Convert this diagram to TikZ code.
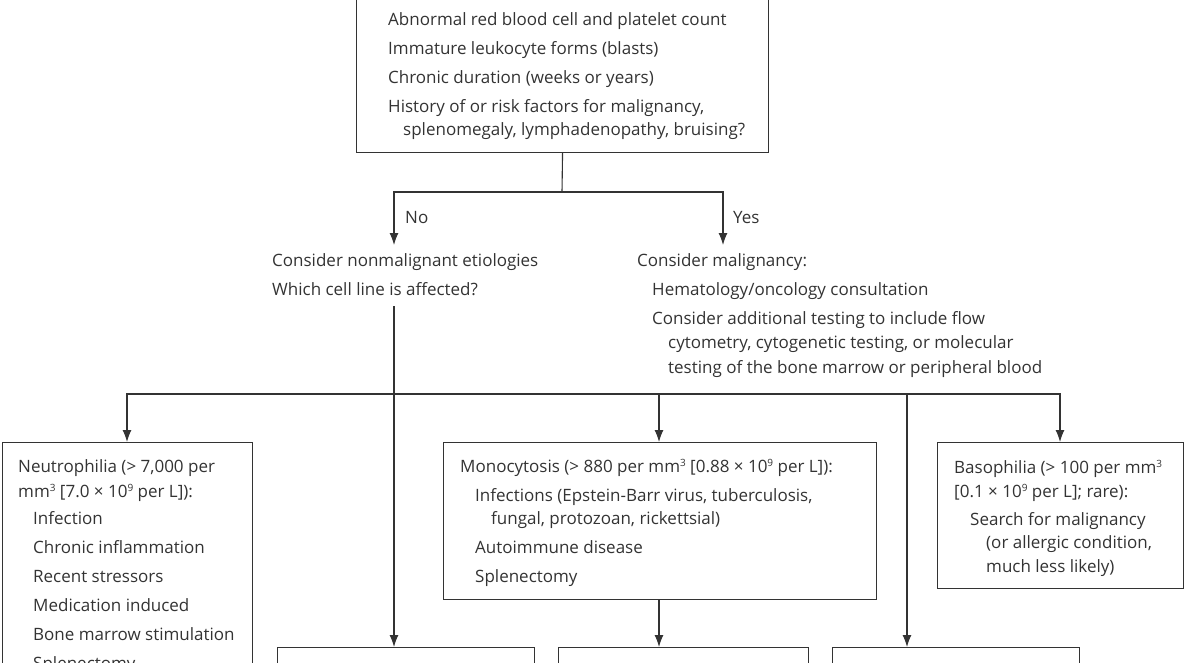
\documentclass[tikz,border=0pt]{standalone}
\usepackage{fontspec}
\setmainfont{Open Sans}
\usetikzlibrary{arrows.meta}
\definecolor{ink}{HTML}{333333}
\newcommand{\supx}[1]{\raisebox{0.62ex}{\fontsize{10}{10}\selectfont #1}}
\begin{document}
\begin{tikzpicture}[x=1pt,y=-1pt,
  box/.style={draw=ink,line width=1.1pt,rectangle,anchor=north west,inner sep=0pt},
  txt/.style={anchor=base west,inner sep=0pt,text=ink,font=\fontsize{17}{20}\selectfont},
  conn/.style={draw=ink,line width=1.1pt},
  arr/.style={conn,-{Latex[length=12pt,width=9pt]}}]
\useasboundingbox (0,0) rectangle (1184,662);
\clip (0,0) rectangle (1184,662);
% boxes
\node[box,minimum width=412pt,minimum height=182pt] (top) at (356,-30) {};
\node[box,minimum width=250pt,minimum height=260pt] (neu) at (2,442) {};
\node[box,minimum width=433pt,minimum height=157pt] (mono) at (443,442) {};
\node[box,minimum width=246pt,minimum height=146pt] (baso) at (937,442) {};
\node[box,minimum width=257pt,minimum height=60pt] (b1) at (277,647) {};
\node[box,minimum width=250pt,minimum height=60pt] (b2) at (558,647) {};
\node[box,minimum width=247pt,minimum height=60pt] (b3) at (832,647) {};
% top box text
\node[txt] (t1) at (388,25) {Abnormal red blood cell and platelet count};
\node[txt] (t2) at (388,54) {Immature leukocyte forms (blasts)};
\node[txt] (t3) at (388,83) {Chronic duration (weeks or years)};
\node[txt] (t4) at (388,112) {History of or risk factors for malignancy,};
\node[txt] (t5) at (403,135) {splenomegaly, lymphadenopathy, bruising?};
% branch labels
\node[txt] (no) at (405,223) {No};
\node[txt] (yes) at (733,223) {Yes};
\node[txt] (n1) at (272,266) {Consider nonmalignant etiologies};
\node[txt] (n2) at (272,295) {Which cell line is affected?};
\node[txt] (m1) at (637,266) {Consider malignancy:};
\node[txt] (m2) at (652,295) {Hematology/oncology consultation};
\node[txt] (m3) at (652,324) {Consider additional testing to include flow};
\node[txt] (m4) at (668,348) {cytometry, cytogenetic testing, or molecular};
\node[txt] (m5) at (668,373) {testing of the bone marrow or peripheral blood};
% neutrophilia
\node[txt] (ne1) at (18,472) {Neutrophilia (> 7,000 per};
\node[txt] (ne2) at (18,497) {mm\supx{3} [7.0 × 10\supx{9} per L]):};
\node[txt] (ne3) at (33,524) {Infection};
\node[txt] (ne4) at (33,553) {Chronic inflammation};
\node[txt] (ne5) at (33,582) {Recent stressors};
\node[txt] (ne6) at (33,611) {Medication induced};
\node[txt] (ne7) at (33,640) {Bone marrow stimulation};
\node[txt] (ne8) at (33,669) {Splenectomy};
% monocytosis
\node[txt] (mo1) at (460,472) {Monocytosis (> 880 per mm\supx{3} [0.88 × 10\supx{9} per L]):};
\node[txt] (mo2) at (475,501) {Infections (Epstein-Barr virus, tuberculosis,};
\node[txt] (mo3) at (491,524) {fungal, protozoan, rickettsial)};
\node[txt] (mo4) at (475,553) {Autoimmune disease};
\node[txt] (mo5) at (475,582) {Splenectomy};
% basophilia
\node[txt] (ba1) at (954,473) {Basophilia (> 100 per mm\supx{3}};
\node[txt] (ba2) at (954,497) {[0.1 × 10\supx{9} per L]; rare):};
\node[txt] (ba3) at (970,525) {Search for malignancy};
\node[txt] (ba4) at (986,548) {(or allergic condition,};
\node[txt] (ba5) at (986,572) {much less likely)};
% coordinates
\coordinate (split) at (562,192);
\coordinate (noTip) at (394,245);
\coordinate (yesTip) at (723,245);
\coordinate (which) at (394,306);
\coordinate (bar) at (907,394);
\coordinate (monoIn) at (659,394);
\coordinate (monoOut) at (659,599);
% connectors
\draw[conn] (top.south) -- (split);
\draw[arr] (split) -| (noTip);
\draw[arr] (split) -| (yesTip);
\draw[arr] (which) -- (which |- b1.north);
\draw[arr] (bar) -| (1060,442);
\draw[arr] (bar) -| (127,442);
\draw[arr] (bar) -- (bar |- b3.north);
\draw[arr] (monoIn) -- (monoIn |- mono.north);
\draw[arr] (monoOut) -- (monoOut |- b2.north);
\end{tikzpicture}
\end{document}
